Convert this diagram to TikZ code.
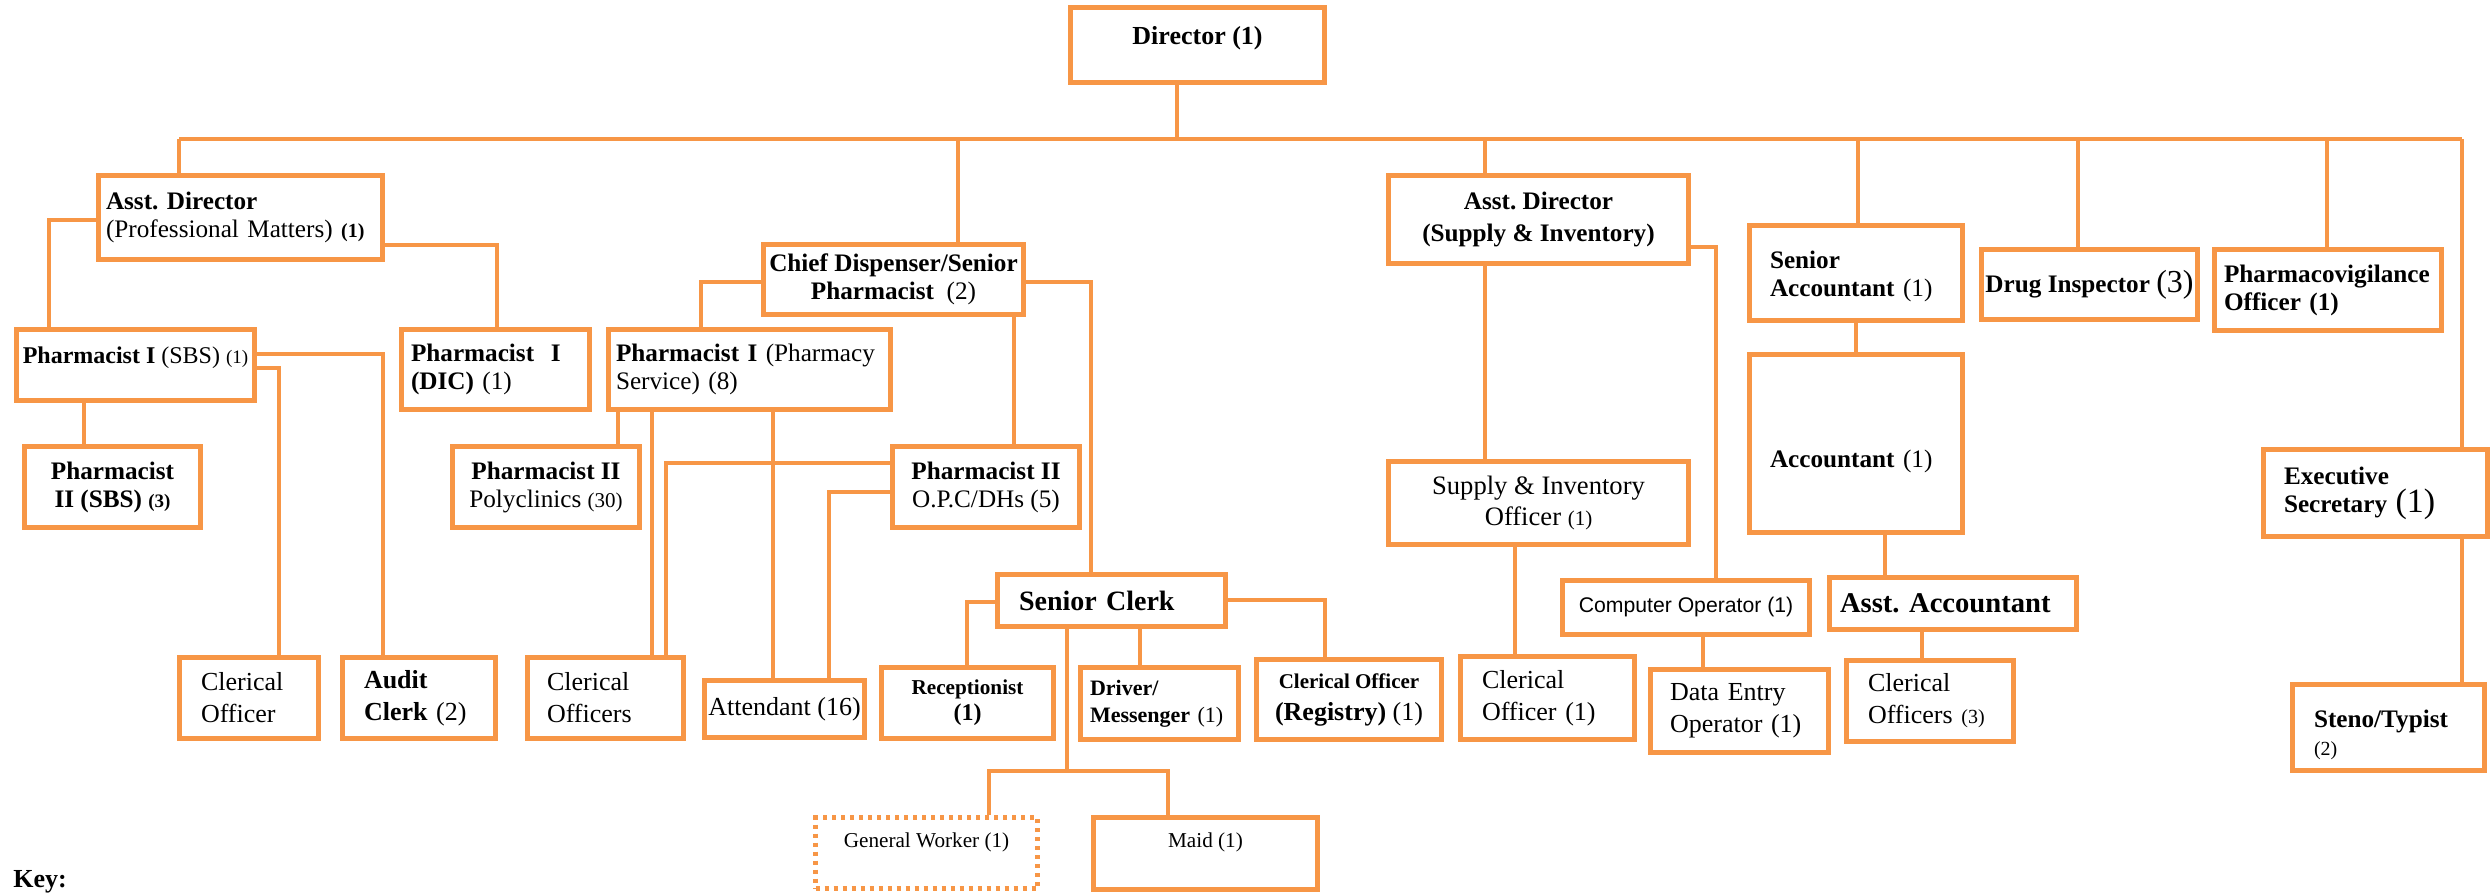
\documentclass[tikz,border=0pt]{standalone}
\usepackage{fontspec}
\setmainfont{Liberation Serif}
\newfontfamily\hlv{Liberation Sans}

\definecolor{chartorange}{RGB}{247,150,70}
\newcommand{\sz}[2]{\fontsize{#1}{#2}\selectfont}

\tikzset{
  post/.style={draw=chartorange, line width=2.5pt, fill=white, inner sep=0pt, align=center},
  lpost/.style={post, align=left, text width=#1},
  dotpost/.style={post, dash pattern=on 2pt off 2.5pt},
  wh/.style 2 args={minimum width=#1, minimum height=#2},
  link/.style={draw=chartorange, line width=2pt},
  pal/.style={font=\sz{12.6}{14}},
  times/.style={font=\sz{13}{16}},
}

\begin{document}
\begin{tikzpicture}[x=0.5pt, y=-0.5pt]
  \useasboundingbox (0,0) rectangle (2492,894);

  % top
  \node[post, font=\sz{13}{16}\bfseries, wh={127pt}{37.5pt}, text depth=10pt] (dir) at (1197.5,45) {Director (1)};

  % professional matters
  \node[lpost=134.5pt, pal, wh={142pt}{42pt}] (adpm) at (240.5,217.5) {\textbf{Asst.\ Director}\\(Professional Matters) {\sz{10}{11}\bfseries (1)}};
  \node[post, font=\sz{12}{14}, wh={119pt}{35.5pt}, text depth=10pt] (ph1sbs) at (135.5,365) {\textbf{Pharmacist I} (SBS) {\sz{9.5}{11}(1)}};
  \node[lpost=84.5pt, pal, wh={94pt}{40pt}] (dic) at (495.5,369.5) {\textbf{Pharmacist\ \ I}\\\textbf{(DIC)} (1)};
  \node[post, pal, wh={88pt}{40.5pt}] (ph2sbs) at (112.5,487) {\textbf{Pharmacist}\\\textbf{II (SBS)} {\sz{9.5}{11}\bfseries (3)}};
  \node[lpost=48pt, times, wh={69.5pt}{40.5pt}] (clo) at (249,698) {Clerical\\Officer};
  \node[lpost=55pt, times, wh={76.5pt}{40.5pt}] (audit) at (419,698) {\textbf{Audit}\\\textbf{Clerk} (2)};

  % pharmacy service
  \node[post, pal, wh={130pt}{35pt}] (chief) at (893.5,279.5) {\textbf{Chief Dispenser/Senior}\\\textbf{Pharmacist}\ \ (2)};
  \node[lpost=133.5pt, pal, wh={141pt}{40pt}] (ps) at (749.5,369.5) {\textbf{Pharmacist I} (Pharmacy\\Service) (8)};
  \node[post, pal, wh={93.5pt}{40.5pt}] (poly) at (546,487) {\textbf{Pharmacist II}\\Polyclinics {\sz{10.5}{12}(30)}};
  \node[post, pal, wh={93.5pt}{40.5pt}] (opc) at (986,487) {\textbf{Pharmacist II}\\O.P.C/DHs (5)};
  \node[lpost=58.5pt, times, wh={78pt}{40.5pt}] (clos) at (605.5,698) {Clerical\\Officers};
  \node[post, times, wh={80pt}{28.5pt}] (att) at (784.5,709) {Attendant (16)};
  \node[lpost=92.5pt, font=\sz{14}{16}\bfseries, wh={114pt}{26pt}] (sc) at (1111.5,600.5) {Senior Clerk};
  \node[post, font=\sz{10.6}{13}\bfseries, wh={86pt}{35.5pt}] (recp) at (967.5,703) {Receptionist\\{\sz{12}{13}(1)}};
  \node[lpost=69.5pt, font=\sz{11}{13.5}, wh={79pt}{36pt}] (drv) at (1159.5,703.5) {\textbf{Driver/}\\\textbf{Messenger} (1)};
  \node[post, times, wh={92.5pt}{40pt}] (reg) at (1349,699.5) {{\sz{10.5}{13}\bfseries Clerical Officer}\\\textbf{(Registry)} (1)};
  \node[dotpost, font=\sz{10.6}{13}, wh={111pt}{35.5pt}, text depth=13pt] (gw) at (926.5,853) {General Worker (1)};
  \node[post, font=\sz{10.6}{13}, wh={112pt}{36pt}, text depth=13pt] (maid) at (1205.5,853.5) {Maid (1)};

  % supply and inventory
  \node[post, font=\sz{12.6}{16}\bfseries, wh={150pt}{44pt}] (adsi) at (1538.5,219.5) {Asst.\ Director\\(Supply \& Inventory)};
  \node[post, font=\sz{13.3}{15.5}, wh={150pt}{41.5pt}] (sio) at (1538.5,503) {Supply \& Inventory\\Officer {\sz{10.5}{12}(1)}};
  \node[lpost=65.5pt, times, wh={87pt}{41.5pt}] (clk1) at (1547.5,698) {Clerical\\Officer (1)};
  \node[post, font=\hlv\sz{10.6}{13}, wh={123.5pt}{27pt}] (cop) at (1686,607.5) {Computer Operator (1)};
  \node[lpost=69.5pt, times, wh={89pt}{41.5pt}] (deo) at (1739.5,711) {Data Entry\\Operator (1)};

  % accounts
  \node[lpost=86pt, pal, wh={106.5pt}{47.5pt}, text depth=13pt] (sacc) at (1856,273) {\textbf{Senior}\\\textbf{Accountant} (1)};
  \node[lpost=86pt, pal, wh={106.5pt}{89pt}, text height=27pt] (acc) at (1856,443.5) {\textbf{Accountant} (1)};
  \node[lpost=113pt, font=\sz{14.3}{16}\bfseries, wh={123.5pt}{26pt}] (aacc) at (1953,603.5) {Asst.\ Accountant};
  \node[lpost=62pt, times, wh={83.5pt}{40.5pt}] (clo3) at (1930,701) {Clerical\\Officers {\sz{10}{12}(3)}};

  % others
  \node[post, pal, wh={108pt}{35pt}] (drug) at (2089.5,284.5) {\textbf{Drug Inspector} {\sz{16}{18}(3)}};
  \node[lpost=104pt, font=\sz{12.6}{14}\bfseries, wh={113.5pt}{40.5pt}] (pv) at (2328,290) {Pharmacovigilance\\Officer (1)};
  \node[lpost=91.5pt, pal, wh={112pt}{43.5pt}] (exec) at (2375.5,493) {\textbf{Executive}\\\textbf{Secretary} {\sz{17}{18}(1)}};
  \node[lpost=74.5pt, pal, wh={96pt}{43pt}, text depth=9pt] (steno) at (2388.5,727.5) {\textbf{Steno/Typist}\\{\sz{10}{11}(2)}};

  \node[font=\sz{13}{16}\bfseries, anchor=base west, inner sep=0pt] (key) at (13,887) {Key:};

  % bus
  \coordinate (bw) at (179,139);
  \coordinate (be) at (2462,139);
  \coordinate (b0) at (1177,139);
  \coordinate (b1) at (958,139);
  \coordinate (b2) at (1485,139);
  \coordinate (b3) at (1858,139);
  \coordinate (b4) at (2078,139);
  \coordinate (b5) at (2327,139);
  \draw[link] (bw) -- (be);
  \draw[link] (dir.south -| b0) -- (b0);
  \draw[link] (bw) -- (bw |- adpm.north);
  \draw[link] (b1) -- (b1 |- chief.north);
  \draw[link] (b2) -- (b2 |- adsi.north);
  \draw[link] (b3) -- (b3 |- sacc.north);
  \draw[link] (b4) -- (b4 |- drug.north);
  \draw[link] (b5) -- (b5 |- pv.north);
  \draw[link] (be) -- (be |- exec.north);
  \draw[link] (be |- exec.south) -- (be |- steno.north);

  % left branch
  \coordinate (e1) at (49,220);
  \coordinate (e2) at (497,245);
  \coordinate (e3) at (383,354);
  \coordinate (e4) at (279,368);
  \coordinate (e5) at (84,403);
  \draw[link] (adpm.west |- e1) -- (e1) -- (e1 |- ph1sbs.north);
  \draw[link] (adpm.east |- e2) -- (e2) -- (e2 |- dic.north);
  \draw[link] (ph1sbs.east |- e3) -- (e3) -- (e3 |- audit.north);
  \draw[link] (ph1sbs.east |- e4) -- (e4) -- (e4 |- clo.north);
  \draw[link] (e5 |- ph1sbs.south) -- (e5 |- ph2sbs.north);

  % middle branch
  \coordinate (e6) at (701,282);
  \coordinate (e7) at (1091,282);
  \coordinate (e8) at (1014,317);
  \coordinate (e9) at (618,412);
  \coordinate (e10) at (652,412);
  \coordinate (e11) at (773,412);
  \coordinate (e12) at (666,463);
  \coordinate (e13) at (829,492);
  \draw[link] (chief.west |- e6) -- (e6) -- (e6 |- ps.north);
  \draw[link] (chief.east |- e7) -- (e7) -- (e7 |- sc.north);
  \draw[link] (e8 |- chief.south) -- (e8 |- opc.north);
  \draw[link] (e9 |- ps.south) -- (e9 |- poly.north);
  \draw[link] (e10 |- ps.south) -- (e10 |- clos.north);
  \draw[link] (e11 |- ps.south) -- (e11 |- att.north);
  \draw[link] (opc.west |- e12) -- (e12) -- (e12 |- clos.north);
  \draw[link] (opc.west |- e13) -- (e13) -- (e13 |- att.north);

  % senior clerk
  \coordinate (e14) at (967,602);
  \coordinate (e15) at (1140,629);
  \coordinate (e16) at (1325,600);
  \coordinate (e17) at (1067,771);
  \coordinate (e18) at (989,771);
  \coordinate (e19) at (1168,771);
  \draw[link] (sc.west |- e14) -- (e14) -- (e14 |- recp.north);
  \draw[link] (e15 |- sc.south) -- (e15 |- drv.north);
  \draw[link] (sc.east |- e16) -- (e16) -- (e16 |- reg.north);
  \draw[link] (e17 |- sc.south) -- (e17);
  \draw[link] (e18 |- gw.north) -- (e18) -- (e19) -- (e19 |- maid.north);

  % right side
  \coordinate (e20) at (1485,266);
  \coordinate (e21) at (1716,247);
  \coordinate (e22) at (1515,547);
  \coordinate (e23) at (1703,637);
  \coordinate (e24) at (1885,535);
  \coordinate (e25) at (1922,632);
  \draw[link] (e20 |- adsi.south) -- (e20 |- sio.north);
  \draw[link] (adsi.east |- e21) -- (e21) -- (e21 |- cop.north);
  \draw[link] (e22 |- sio.south) -- (e22 |- clk1.north);
  \draw[link] (e23 |- cop.south) -- (e23 |- deo.north);
  \draw[link] (sacc) -- (acc);
  \draw[link] (e24 |- acc.south) -- (e24 |- aacc.north);
  \draw[link] (e25 |- aacc.south) -- (e25 |- clo3.north);
\end{tikzpicture}
\end{document}
